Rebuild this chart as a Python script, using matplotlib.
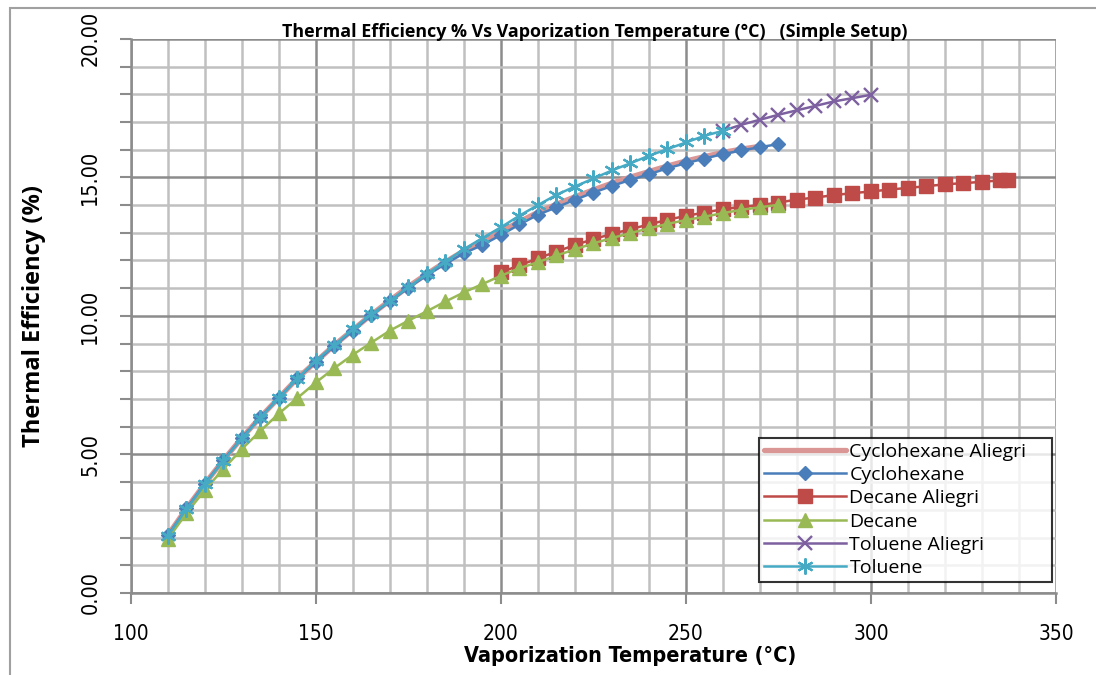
import matplotlib
matplotlib.use("Agg")
import matplotlib.pyplot as plt
from matplotlib.ticker import MultipleLocator, FormatStrFormatter
from matplotlib.patches import Rectangle

# data
temp_cyc = [110, 115, 120, 125, 130, 135, 140, 145, 150, 155, 160, 165, 170, 175, 180, 185,
            190, 195, 200, 205, 210, 215, 220, 225, 230, 235, 240, 245, 250, 255, 260, 265, 270, 275]
eff_cyc = [2.09, 3.05, 3.95, 4.80, 5.60, 6.35, 7.05, 7.75, 8.33, 8.93, 9.47, 10.03, 10.53, 11.02, 11.47, 11.88,
           12.26, 12.56, 12.92, 13.30, 13.65, 13.92, 14.19, 14.45, 14.69, 14.91, 15.11, 15.33, 15.51, 15.68, 15.84, 15.97, 16.09, 16.20]

temp_cyc_al = [110, 115, 120, 125, 130, 135, 140, 145, 150, 155, 160, 165, 170, 175, 180, 185,
               190, 195, 200, 205, 210, 215, 220, 225, 230, 235, 240, 245, 250, 255, 260, 265, 270]
eff_cyc_al = [2.09, 3.05, 3.95, 4.80, 5.60, 6.35, 7.05, 7.75, 8.35, 8.95, 9.50, 10.05, 10.56, 11.06, 11.52, 11.95,
              12.35, 12.70, 13.05, 13.40, 13.74, 14.03, 14.30, 14.55, 14.79, 15.01, 15.21, 15.41, 15.59, 15.75, 15.90, 16.02, 16.12]

temp_dec_al = [200, 205, 210, 215, 220, 225, 230, 235, 240, 245, 250, 255, 260, 265, 270, 275, 280,
               285, 290, 295, 300, 305, 310, 315, 320, 325, 330, 335, 337]
eff_dec_al = [11.58, 11.82, 12.08, 12.32, 12.56, 12.77, 12.96, 13.13, 13.30, 13.47, 13.61, 13.73, 13.85, 13.93, 14.00, 14.09, 14.20,
              14.27, 14.36, 14.43, 14.49, 14.56, 14.62, 14.68, 14.75, 14.79, 14.84, 14.89, 14.91]

temp_dec = [110, 115, 120, 125, 130, 135, 140, 145, 150, 155, 160, 165, 170, 175, 180, 185,
            190, 195, 200, 205, 210, 215, 220, 225, 230, 235, 240, 245, 250, 255, 260, 265, 270, 275]
eff_dec = [1.95, 2.88, 3.72, 4.48, 5.20, 5.85, 6.48, 7.04, 7.60, 8.12, 8.60, 9.04, 9.47, 9.83, 10.17, 10.52,
           10.85, 11.15, 11.45, 11.72, 11.94, 12.18, 12.40, 12.62, 12.81, 12.99, 13.16, 13.32, 13.46, 13.58, 13.71, 13.83, 13.92, 14.01]

temp_tol_al = [260, 265, 270, 275, 280, 285, 290, 295, 300]
eff_tol_al = [16.68, 16.90, 17.08, 17.26, 17.42, 17.58, 17.74, 17.86, 17.98]

temp_tol = [110, 115, 120, 125, 130, 135, 140, 145, 150, 155, 160, 165, 170, 175, 180, 185,
            190, 195, 200, 205, 210, 215, 220, 225, 230, 235, 240, 245, 250, 255, 260]
eff_tol = [2.07, 3.03, 3.93, 4.78, 5.58, 6.33, 7.04, 7.74, 8.39, 8.95, 9.52, 10.06, 10.55, 11.04, 11.52, 11.96,
           12.41, 12.81, 13.20, 13.62, 14.00, 14.37, 14.67, 14.96, 15.25, 15.51, 15.78, 16.02, 16.26, 16.50, 16.68]

narrow = ['Liberation Sans Narrow', 'DejaVu Sans']
plt.rcParams['font.family'] = ['Open Sans', 'DejaVu Sans']

fig = plt.figure(figsize=(10.96, 6.75), dpi=100)
ax = fig.add_axes([0.1195, 0.1215, 0.844, 0.821])

ax.plot(temp_cyc_al, eff_cyc_al, color='#D99694', lw=3.8, label='Cyclohexane Aliegri', zorder=3, solid_capstyle='round')
ax.plot(temp_cyc, eff_cyc, color='#4A7EBB', lw=1.8, marker='D', ms=7.5, label='Cyclohexane', zorder=4)
ax.plot(temp_dec_al, eff_dec_al, color='#BE4B48', lw=1.8, marker='s', ms=10, label='Decane Aliegri', zorder=5)
ax.plot(temp_dec, eff_dec, color='#98B954', lw=1.8, marker='^', ms=10.5, label='Decane', zorder=6)
ax.plot(temp_tol_al, eff_tol_al, color='#7D60A0', lw=1.8, marker='x', ms=9.5, mew=1.7, label='Toluene Aliegri', zorder=7)
ax.plot(temp_tol, eff_tol, color='#46AAC5', lw=1.8, marker=(6, 2, 0), ms=11.5, mew=1.6, label='Toluene', zorder=8)

ax.set_xlim(100, 350)
ax.set_ylim(0, 20)
ax.xaxis.set_major_locator(MultipleLocator(50))
ax.xaxis.set_minor_locator(MultipleLocator(10))
ax.yaxis.set_major_locator(MultipleLocator(5))
ax.yaxis.set_minor_locator(MultipleLocator(1))
ax.yaxis.set_major_formatter(FormatStrFormatter('%.2f'))

ax.grid(which='minor', color='#C0C0C0', lw=1.8, zorder=0)
ax.grid(which='major', color='#8C8C8C', lw=1.8, zorder=1)
ax.set_axisbelow(True)
for s in ['top', 'right']:
    ax.spines[s].set_visible(False)
for s in ['left', 'bottom']:
    ax.spines[s].set_color('#8C8C8C')
    ax.spines[s].set_linewidth(1.8)

ax.tick_params(axis='x', which='major', length=8, width=1.5, color='#8C8C8C', pad=14)
ax.tick_params(axis='x', which='minor', length=0)
ax.tick_params(axis='y', which='both', length=8, width=1.5, color='#8C8C8C', pad=14)
for lab in ax.get_xticklabels():
    lab.set_family(narrow)
    lab.set_stretch('condensed')
    lab.set_fontsize(15)
for lab in ax.get_yticklabels():
    lab.set_family(narrow)
    lab.set_stretch('condensed')
    lab.set_fontsize(15.5)
    lab.set_rotation(90)
    lab.set_va('center')

ax.set_xlabel('Vaporization Temperature (\u00b0C)', fontsize=15.5, fontweight='bold', family=narrow,
              stretch='condensed')
ax.xaxis.set_label_coords((630 - 131) / 925, -0.095)
ax.set_ylabel('Thermal Efficiency (%)', fontsize=17, fontweight='bold', labelpad=25)

fig.text(595 / 1096, 1 - 32 / 675, 'Thermal Efficiency % Vs Vaporization Temperature (\u00b0C)   (Simple Setup)',
         ha='center', va='center', fontsize=12.9, fontweight='bold')

leg = ax.legend(loc='lower left', bbox_to_anchor=((759 - 131) / 925, 0.02, (1052 - 759) / 925, 0.28),
                mode='expand', borderaxespad=0, fontsize=14, frameon=True,
                fancybox=False, handlelength=4.2, borderpad=0.25, labelspacing=0.27, handletextpad=0.2)
leg.get_frame().set_edgecolor('black')
leg.get_frame().set_linewidth(1.5)
leg.set_zorder(20)

fig.patches.append(Rectangle((10 / 1096, -0.1), 1.2, 1.1 - 8 / 675, transform=fig.transFigure,
                             fill=False, edgecolor='#A0A0A0', lw=1.5))

fig.savefig('out.png', dpi=100)
